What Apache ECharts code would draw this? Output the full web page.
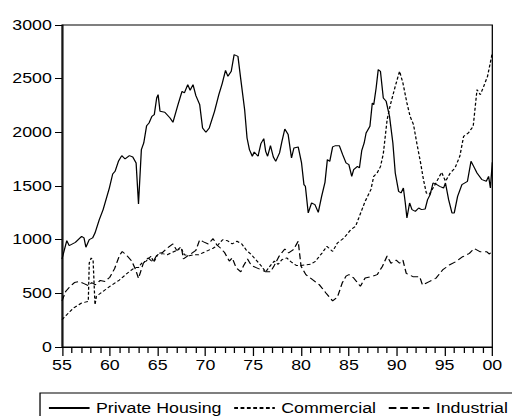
<!DOCTYPE html>
<html>
<head>
<meta charset="utf-8">
<script src="https://cdn.jsdelivr.net/npm/echarts@6/dist/echarts.min.js"></script>
<style>
  html, body { margin: 0; padding: 0; background: #fff; overflow: hidden; }
  /* chart is laid out narrow and stretched horizontally to fill the 512px page */
  #chart {
    position: absolute; left: 0; top: 0;
    width: 403px; height: 416px;
    transform: scaleX(1.2705); transform-origin: 0 0;
  }
</style>
</head>
<body>
<div id="chart"></div>
<script>
// Construction starts, 1955-2000 (x in two-digit years, 100 = 2000)
const seriesNames = ['Private Housing', 'Commercial', 'Industrial'];

const housingYears = [55.0, 55.5, 55.75, 56.4, 57.05, 57.3, 57.5, 57.85, 58.2, 58.45, 58.9, 59.3, 59.7, 59.95,
  60.3, 60.55, 60.9, 61.25, 61.6, 62.05, 62.4, 62.75, 63.0, 63.3, 63.55, 63.85, 64.1, 64.4, 64.65, 64.9,
  65.05, 65.25, 65.75, 66.3, 66.6, 67.1, 67.55, 67.8, 68.15, 68.4, 68.7, 69.0, 69.4, 69.7, 70.05, 70.4,
  70.95, 71.4, 71.75, 72.1, 72.35, 72.7, 73.0, 73.4, 73.7, 74.1, 74.35, 74.6, 74.9, 75.1, 75.5, 75.8,
  76.1, 76.3, 76.5, 76.8, 77.1, 77.35, 77.75, 78.0, 78.3, 78.65, 79.0, 79.25, 79.7, 80.05, 80.3, 80.45,
  80.75, 81.1, 81.45, 81.8, 82.15, 82.5, 82.75, 83.0, 83.3, 83.6, 84.0, 84.35, 84.7, 85.0, 85.3, 85.5,
  85.9, 86.1, 86.35, 86.6, 86.8, 87.2, 87.45, 87.6, 87.85, 88.07, 88.3, 88.6, 88.9, 89.25, 89.6, 89.85,
  90.2, 90.45, 90.7, 90.9, 91.07, 91.35, 91.6, 91.95, 92.3, 92.6, 92.98, 93.23, 93.5, 93.8, 94.03, 94.5,
  94.9, 95.1, 95.43, 95.78, 96.02, 96.37, 96.82, 97.4, 97.77, 98.05, 98.4, 98.92, 99.37, 99.61, 99.8, 100];
const housingValues = [820, 991, 944, 975, 1031, 1016, 929, 1000, 1016, 1062, 1186, 1280, 1404, 1481,
  1612, 1637, 1730, 1783, 1752, 1783, 1770, 1715, 1332, 1839, 1901, 2062, 2087, 2149, 2165, 2320,
  2351, 2196, 2187, 2134, 2093, 2249, 2382, 2367, 2444, 2392, 2444, 2342, 2258, 2041, 2000, 2041,
  2196, 2351, 2454, 2578, 2522, 2569, 2724, 2708, 2491, 2211, 1947, 1839, 1777, 1817, 1777, 1895,
  1941, 1823, 1777, 1876, 1770, 1730, 1808, 1916, 2031, 1979, 1761, 1854, 1864, 1715, 1513, 1497,
  1249, 1342, 1326, 1255, 1404, 1534, 1746, 1730, 1864, 1876, 1876, 1792, 1715, 1699, 1590, 1652,
  1683, 1668, 1833, 1901, 1994, 2056, 2274, 2258, 2413, 2584, 2569, 2320, 2289, 2149, 1901, 1621,
  1450, 1435, 1481, 1342, 1202, 1342, 1280, 1264, 1295, 1280, 1286, 1373, 1420, 1528, 1522, 1497,
  1481, 1528, 1373, 1249, 1249, 1404, 1513, 1544, 1730, 1683, 1621, 1559, 1544, 1590, 1481, 1720];

const commercialYears = [55.0, 55.5, 56.2, 57.05, 57.75, 57.85, 58.05, 58.25, 58.45, 58.6, 59.3, 60.0,
  61.0, 62.0, 62.6, 63.0, 63.4, 63.8, 64.3, 64.6, 65.0, 65.5, 66.0, 66.5, 67.0, 67.4, 67.8, 68.3, 68.8,
  69.3, 69.8, 70.3, 70.8, 71.3, 71.8, 72.3, 72.8, 73.3, 73.8, 74.3, 74.8, 75.3, 75.8, 76.3, 76.8, 77.2,
  77.6, 78.0, 78.5, 79.0, 79.5, 80.0, 80.5, 81.0, 81.5, 82.2, 82.7, 83.3, 83.8, 84.5, 85.2, 85.7, 86.1,
  86.7, 87.3, 87.6, 87.95, 88.3, 88.6, 89.0, 89.3, 89.85, 90.3, 90.65, 91.07, 91.4, 91.76, 92.1, 92.5,
  92.8, 93.1, 93.4, 93.8, 94.1, 94.7, 95.1, 95.6, 96.1, 96.6, 97.0, 97.5, 98.0, 98.4, 98.75, 99.1, 99.5, 100];
const commercialValues = [255, 301, 363, 410, 425, 783, 829, 814, 394, 472, 519, 565,
  624, 700, 740, 740, 790, 800, 845, 790, 860, 870, 860, 880, 900, 930, 860, 850, 860,
  860, 880, 900, 920, 950, 1000, 990, 960, 985, 960, 900, 860, 810, 760, 700, 760, 800,
  770, 814, 830, 790, 760, 760, 765, 770, 798, 876, 938, 891, 969, 1016, 1093, 1124, 1218,
  1357, 1466, 1590, 1621, 1680, 1800, 2118, 2243, 2429, 2569, 2460, 2274, 2149, 2072, 1901, 1715,
  1559, 1435, 1420, 1481, 1528, 1628, 1544, 1621, 1668, 1777, 1963, 1994, 2056, 2398, 2351, 2429, 2522, 2740];

const industrialYears = [55.0, 55.4, 55.8, 56.3, 56.8, 57.3, 57.8, 58.1, 58.5, 59.0, 59.5, 60.0, 60.5,
  61.0, 61.3, 61.8, 62.3, 62.7, 63.0, 63.5, 64.0, 64.5, 65.0, 65.5, 66.0, 66.6, 67.0, 67.5, 67.7, 68.0,
  68.5, 69.0, 69.4, 69.8, 70.3, 70.8, 71.2, 71.6, 72.0, 72.5, 72.8, 73.2, 73.7, 74.0, 74.4, 74.8, 75.3,
  75.8, 76.3, 76.8, 77.2, 77.7, 78.3, 78.7, 79.2, 79.7, 80.0, 80.5, 81.2, 81.9, 82.6, 83.3, 83.8, 84.3,
  84.7, 85.0, 85.5, 86.2, 86.7, 87.4, 87.96, 88.5, 89.0, 89.4, 89.95, 90.3, 90.65, 91.0, 91.7, 92.4,
  92.7, 93.4, 94.1, 94.8, 95.5, 96.2, 96.9, 97.6, 98.1, 98.7, 99.4, 99.7, 100];
const industrialValues = [430, 520, 560, 600, 610, 590, 570, 600, 580, 620, 610, 650, 730,
  850, 890, 850, 800, 720, 640, 780, 830, 790, 870, 880, 920, 960, 900, 920, 820, 840,
  870, 900, 1000, 980, 960, 1010, 950, 920, 880, 800, 830, 740, 700, 760, 820, 760, 740,
  720, 700, 700, 760, 845, 913, 876, 907, 985, 752, 674, 627, 581, 503, 430, 465, 596,
  660, 674, 643, 565, 643, 658, 674, 750, 848, 780, 810, 780, 810, 686, 655, 655,
  578, 609, 640, 718, 764, 795, 841, 872, 919, 888, 888, 866, 897];

function pairs(xs, ys) { return xs.map((x, i) => [x, ys[i]]); }

const FONT = '"Liberation Sans", Arial, Helvetica, sans-serif';
const chart = echarts.init(document.getElementById('chart'), null, { renderer: 'svg' });

chart.setOption({
  animation: false,
  backgroundColor: '#fff',
  grid: {
    left: 48.8, right: 15.5, top: 25, bottom: 69,
    show: true, borderColor: '#000', borderWidth: 1, backgroundColor: 'transparent'
  },
  xAxis: {
    type: 'value', min: 55, max: 100, interval: 5,
    axisLine: { show: true, lineStyle: { color: '#000', width: 1 } },
    axisTick: { show: true, length: 9, lineStyle: { color: '#000', width: 1 } },
    minorTick: { show: true, splitNumber: 5, length: 6, lineStyle: { color: '#000', width: 1 } },
    splitLine: { show: false },
    axisLabel: {
      color: '#000', fontSize: 14, fontFamily: FONT, margin: 11,
      formatter: v => String(Math.round(v) % 100).padStart(2, '0')
    }
  },
  yAxis: {
    type: 'value', min: 0, max: 3000, interval: 500,
    axisLine: { show: true, lineStyle: { color: '#000', width: 1 } },
    axisTick: { show: true, length: 5.5, lineStyle: { color: '#000', width: 1 } },
    splitLine: { show: false },
    axisLabel: { color: '#000', fontSize: 14, fontFamily: FONT, margin: 8, formatter: v => String(v) }
  },
  legend: {
    left: 31.5, top: 393, width: 390,
    orient: 'horizontal',
    itemWidth: 32, itemHeight: 14, itemGap: 9,
    padding: [8, 30, 8, 6],
    borderColor: '#000', borderWidth: 1,
    // line-only keys: hide the marker drawn in the middle of each key line
    itemStyle: { color: 'rgba(0,0,0,0)', borderColor: 'rgba(0,0,0,0)', borderWidth: 0 },
    textStyle: { color: '#000', fontSize: 14, fontFamily: FONT },
    data: seriesNames
  },
  series: [
    {
      name: seriesNames[0], type: 'line', symbol: 'none', data: pairs(housingYears, housingValues),
      lineStyle: { color: '#000', width: 1, type: 'solid' }, itemStyle: { color: '#000' }
    },
    {
      name: seriesNames[1], type: 'line', symbol: 'none', data: pairs(commercialYears, commercialValues),
      lineStyle: { color: '#000', width: 1, type: [3, 2] }, itemStyle: { color: '#000' }
    },
    {
      name: seriesNames[2], type: 'line', symbol: 'none', data: pairs(industrialYears, industrialValues),
      lineStyle: { color: '#000', width: 1, type: [6, 3] }, itemStyle: { color: '#000' }
    }
  ]
});
</script>
</body>
</html>
